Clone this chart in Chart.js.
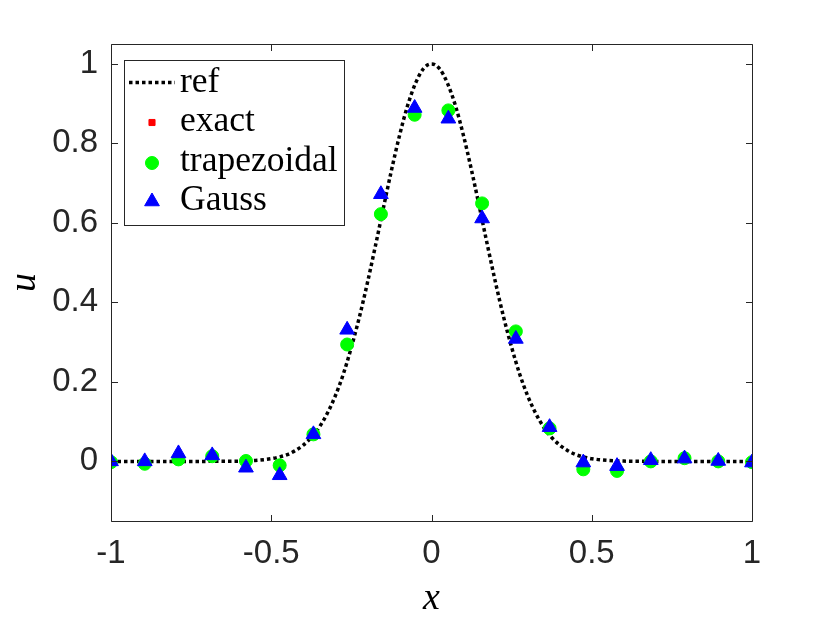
<!DOCTYPE html>
<html>
<head>
<meta charset="utf-8">
<script src="https://cdn.jsdelivr.net/npm/chart.js@4/dist/chart.umd.min.js"></script>
<style>
    body { margin: 0; background: #fff; }
    canvas { display: block; }
</style>
</head>
<body>
<canvas id="u-chart" width="830" height="623"></canvas>
<script>
/*jshint esversion: 9 */

// nodes of the quadrature comparison
const xNodes = [-1, -0.8947, -0.7895, -0.6842, -0.5789, -0.4737, -0.3684, -0.2632, -0.1579, -0.0526,
    0.0526, 0.1579, 0.2632, 0.3684, 0.4737, 0.5789, 0.6842, 0.7895, 0.8947, 1];
const exactU = [0.0, 0.0, 0.022, 0.015, -0.014, -0.03, 0.07, 0.333, 0.674, 0.891,
    0.864, 0.614, 0.311, 0.088, 0.0, -0.01, 0.004, 0.008, 0.001, -0.002];
const trapU = [-0.002, -0.006, 0.005, 0.013, 0.001, -0.01, 0.068, 0.294, 0.622, 0.872,
    0.883, 0.649, 0.327, 0.083, -0.02, -0.024, 0.0, 0.008, 0.0, -0.002];
const gaussU = [0.0, 0.0, 0.02, 0.015, -0.016, -0.035, 0.068, 0.331, 0.672, 0.889,
    0.862, 0.611, 0.308, 0.086, -0.003, -0.012, 0.003, 0.007, 0.001, -0.003];

// reference curve
const refX = [-1, -0.9, -0.8, -0.7, -0.65, -0.6, -0.55, -0.5, -0.475, -0.45, -0.425, -0.4, -0.375, -0.35,
    -0.325, -0.3, -0.275, -0.25, -0.225, -0.2, -0.175, -0.15, -0.125, -0.1, -0.075, -0.05, -0.025, 0,
    0.025, 0.05, 0.075, 0.1, 0.125, 0.15, 0.175, 0.2, 0.225, 0.25, 0.275, 0.3, 0.325, 0.35, 0.375,
    0.4, 0.425, 0.45, 0.475, 0.5, 0.55, 0.6, 0.65, 0.7, 0.8, 0.9, 1];
const refU = [0, 0, 0, 0, 0.0002, 0.0007, 0.0024, 0.0067, 0.011, 0.017, 0.027, 0.041, 0.06, 0.086,
    0.121, 0.165, 0.22, 0.287, 0.363, 0.449, 0.542, 0.638, 0.732, 0.819, 0.894, 0.951, 0.988, 1,
    0.988, 0.951, 0.894, 0.819, 0.732, 0.638, 0.542, 0.449, 0.363, 0.287, 0.22, 0.165, 0.121, 0.086, 0.06,
    0.041, 0.027, 0.017, 0.011, 0.0067, 0.0024, 0.0007, 0.0002, 0, 0, 0, 0];

const xTicks = [-1, -0.5, 0, 0.5, 1];
const yTicks = [0, 0.2, 0.4, 0.6, 0.8, 1];

const seriesLabels = ['ref', 'exact', 'trapezoidal', 'Gauss'];

const AXIS_COLOR = '#262626';
const TICK_FONT = { family: "'Liberation Sans', Arial, sans-serif", size: 33 };
const LABEL_FONT = { family: "'Liberation Serif', 'Times New Roman', serif", size: 38, style: 'italic' };

const toPoints = (xs, ys) => xs.map((x, i) => ({ x: x, y: ys[i] }));

const drawMarker = (ctx, style, radius, color, x, y) => {
    ctx.save();
    ctx.fillStyle = color;
    ctx.strokeStyle = color;
    ctx.lineWidth = 1;
    if (Chart.helpers && Chart.helpers.drawPoint) {
        Chart.helpers.drawPoint(ctx, { pointStyle: style, radius: radius, rotation: 0, borderWidth: 1 }, x, y);
    } else {
        ctx.beginPath();
        ctx.arc(x, y, radius, 0, Math.PI * 2);
        ctx.fill();
    }
    ctx.restore();
};

const plugin = {
    background: {
        id: 'white_background',
        beforeDraw: chart => {
            const ctx = chart.ctx;
            ctx.save();
            ctx.fillStyle = '#fff';
            ctx.fillRect(0, 0, chart.width, chart.height);
            ctx.restore();
        },
    },

    // matlab style box with inward ticks on all four sides
    axesBox: {
        id: 'axes_box',
        afterDraw: chart => {
            const ctx = chart.ctx;
            const area = chart.chartArea;
            const xScale = chart.scales.x;
            const yScale = chart.scales.y;
            const len = 6.5;
            const l = Math.round(area.left) + 0.5;
            const r = Math.round(area.right) + 0.5;
            const t = Math.round(area.top) + 0.5;
            const b = Math.round(area.bottom) + 0.5;

            ctx.save();
            ctx.strokeStyle = AXIS_COLOR;
            ctx.lineWidth = 1;
            ctx.beginPath();
            ctx.rect(l, t, r - l, b - t);

            xTicks.forEach(v => {
                const px = Math.round(xScale.getPixelForValue(v)) + 0.5;
                ctx.moveTo(px, b);
                ctx.lineTo(px, b - len);
                ctx.moveTo(px, t);
                ctx.lineTo(px, t + len);
            });
            yTicks.forEach(v => {
                const py = Math.round(yScale.getPixelForValue(v)) + 0.5;
                ctx.moveTo(l, py);
                ctx.lineTo(l + len, py);
                ctx.moveTo(r, py);
                ctx.lineTo(r - len, py);
            });
            ctx.stroke();
            ctx.restore();
        },
    },

    legendBox: {
        id: 'legend_box',
        afterDraw: chart => {
            const ctx = chart.ctx;
            const box = { left: 124.5, top: 60.5, right: 344.5, bottom: 225.5 };
            const baseY = [91.5, 131, 170.5, 210];
            const markY = [82.5, 122.5, 163, 201.5];

            ctx.save();
            ctx.fillStyle = '#fff';
            ctx.strokeStyle = AXIS_COLOR;
            ctx.lineWidth = 1;
            ctx.fillRect(box.left, box.top, box.right - box.left, box.bottom - box.top);
            ctx.strokeRect(box.left, box.top, box.right - box.left, box.bottom - box.top);

            chart.data.datasets.forEach((ds, i) => {
                if (ds.showLine) {
                    ctx.save();
                    ctx.strokeStyle = ds.borderColor;
                    ctx.lineWidth = ds.borderWidth;
                    ctx.setLineDash(ds.borderDash);
                    ctx.beginPath();
                    ctx.moveTo(129, markY[i]);
                    ctx.lineTo(175, markY[i]);
                    ctx.stroke();
                    ctx.restore();
                } else {
                    drawMarker(ctx, ds.pointStyle, ds.pointRadius, ds.backgroundColor, 152, markY[i]);
                }
                ctx.fillStyle = '#000';
                ctx.font = "35.5px 'Liberation Serif', 'Times New Roman', serif";
                ctx.textBaseline = 'alphabetic';
                ctx.textAlign = 'left';
                ctx.fillText(ds.label, 180, baseY[i]);
            });
            ctx.restore();
        },
    },
};

const data = {
    datasets: [
        {
            label: seriesLabels[0],
            data: toPoints(refX, refU),
            showLine: true,
            borderColor: '#000',
            borderWidth: 3.5,
            borderDash: [3.5, 3],
            borderCapStyle: 'butt',
            cubicInterpolationMode: 'monotone',
            pointRadius: 0,
            order: 4,
        },
        {
            label: seriesLabels[1],
            data: toPoints(xNodes, exactU),
            showLine: false,
            pointStyle: 'rect',
            pointRadius: 4.3,
            backgroundColor: '#ff0000',
            borderColor: '#ff0000',
            pointBorderWidth: 0,
            order: 3,
        },
        {
            label: seriesLabels[2],
            data: toPoints(xNodes, trapU),
            showLine: false,
            pointStyle: 'circle',
            pointRadius: 6.5,
            backgroundColor: '#00ff00',
            borderColor: '#00ff00',
            pointBorderWidth: 1,
            order: 2,
        },
        {
            label: seriesLabels[3],
            data: toPoints(xNodes, gaussU),
            showLine: false,
            pointStyle: 'triangle',
            pointRadius: 8.5,
            backgroundColor: '#0000ff',
            borderColor: '#0000ff',
            pointBorderWidth: 1,
            order: 1,
        },
    ],
};

const config = {
    type: 'scatter',
    data: data,
    options: {
        responsive: false,
        animation: false,
        devicePixelRatio: 1,
        layout: { padding: { top: 44, right: 78, left: 0, bottom: 0 } },
        plugins: {
            legend: { display: false },
            tooltip: { enabled: false },
        },
        scales: {
            x: {
                type: 'linear',
                min: -1,
                max: 1,
                afterBuildTicks: scale => { scale.ticks = xTicks.map(v => ({ value: v })); },
                afterFit: scale => { scale.height = 102; },
                grid: { display: false },
                border: { display: false },
                ticks: {
                    color: AXIS_COLOR,
                    font: TICK_FONT,
                    padding: 5,
                    maxRotation: 0,
                    autoSkip: false,
                    callback: v => String(v),
                },
                title: {
                    display: true,
                    text: 'x',
                    color: '#000',
                    font: LABEL_FONT,
                    padding: { top: 0, bottom: 1 },
                },
            },
            y: {
                type: 'linear',
                min: -0.15,
                max: 1.05,
                afterBuildTicks: scale => { scale.ticks = yTicks.map(v => ({ value: v })); },
                afterFit: scale => { scale.width = 111; },
                grid: { display: false },
                border: { display: false },
                ticks: {
                    color: AXIS_COLOR,
                    font: TICK_FONT,
                    padding: 5,
                    autoSkip: false,
                    callback: v => String(v),
                },
                title: {
                    display: true,
                    text: 'u',
                    color: '#000',
                    font: LABEL_FONT,
                    padding: { top: 2, bottom: 0 },
                },
            },
        },
    },
    plugins: [plugin.background, plugin.axesBox, plugin.legendBox],
};

new Chart(document.getElementById('u-chart'), config);
</script>
</body>
</html>
